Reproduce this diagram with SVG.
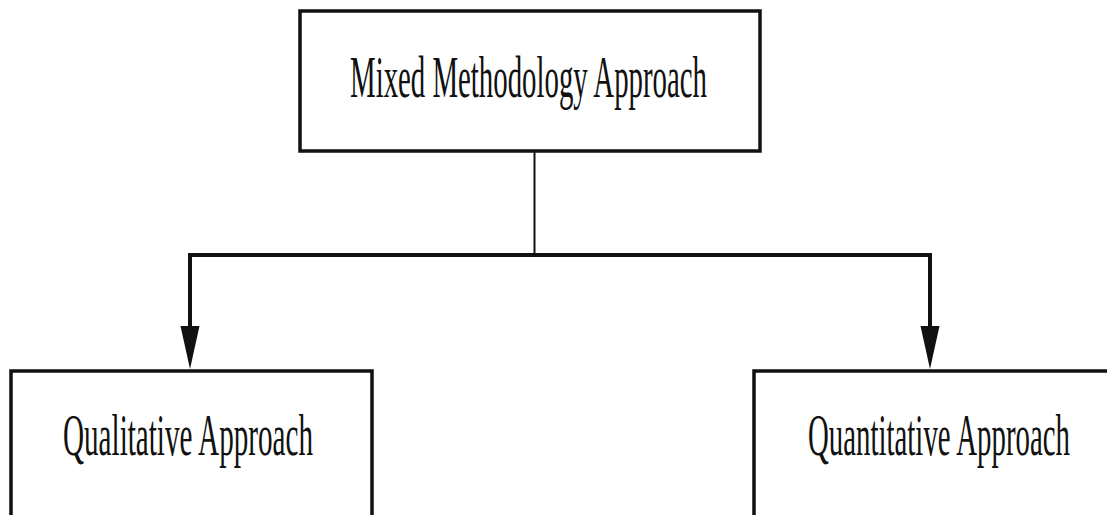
<svg xmlns="http://www.w3.org/2000/svg" width="1107" height="515" viewBox="0 0 1107 515">
<style>
.box{fill:#fff;stroke:#111;stroke-width:3.5}
.lbl{font-family:"Liberation Serif","Times New Roman",serif;font-size:60px;fill:#111}
.conn{fill:none;stroke:#111}
.head{fill:#111}
</style>
<g id="connectors">
<line class="conn" x1="534.5" y1="152" x2="534.5" y2="255" stroke-width="2"/>
<path class="conn" d="M190,330 V255 H930 V330" stroke-width="4"/>
<polygon class="head" points="180.5,326 199.5,326 190,369"/>
<polygon class="head" points="920.5,326 939.5,326 930,369"/>
</g>
<g id="node-mixed">
<rect class="box" x="300" y="11" width="460" height="140"/>
<text class="lbl" x="350" y="97" textLength="357" lengthAdjust="spacingAndGlyphs">Mixed Methodology Approach</text>
</g>
<g id="node-qualitative">
<rect class="box" x="11" y="371" width="361" height="160"/>
<text class="lbl" x="63" y="455" textLength="250" lengthAdjust="spacingAndGlyphs">Qualitative Approach</text>
</g>
<g id="node-quantitative">
<rect class="box" x="754" y="371" width="370" height="160"/>
<text class="lbl" x="808" y="455" textLength="262" lengthAdjust="spacingAndGlyphs">Quantitative Approach</text>
</g>
</svg>
